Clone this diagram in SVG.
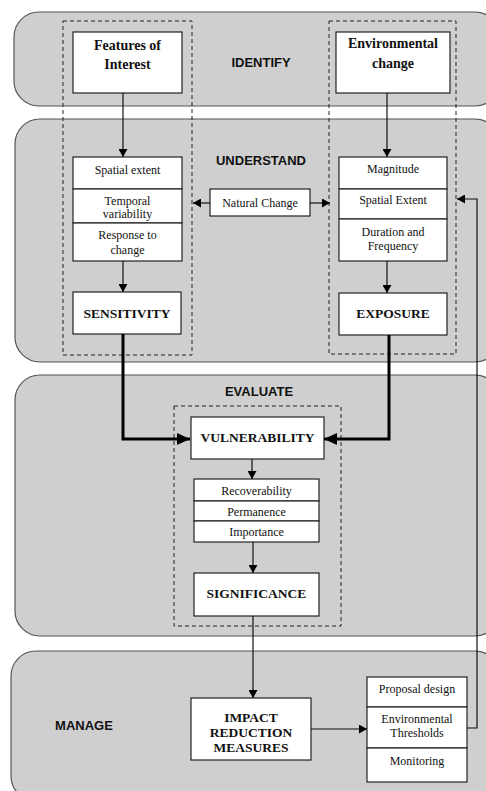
<svg xmlns="http://www.w3.org/2000/svg" width="486" height="791" viewBox="0 0 486 791">
<style>
.band{fill:#cfcfcf;stroke:#555;stroke-width:1.2}
.box{fill:#fff;stroke:#222;stroke-width:1.2}
.dash{fill:none;stroke:#222;stroke-width:1;stroke-dasharray:4,3}
.lbl{font-family:"Liberation Sans",Arial,sans-serif;font-weight:bold;font-size:13px;fill:#111;text-anchor:middle}
.s{font-family:"Liberation Serif","Times New Roman",serif;font-size:12px;fill:#111;text-anchor:middle}
.b{font-family:"Liberation Serif","Times New Roman",serif;font-size:13.5px;font-weight:bold;fill:#111;text-anchor:middle}
.b14{font-family:"Liberation Serif","Times New Roman",serif;font-size:14px;font-weight:bold;fill:#111;text-anchor:middle}
.ln{fill:none;stroke:#111;stroke-width:1.2}
.thk{fill:none;stroke:#000;stroke-width:3}
</style>
<defs>
<marker id="ah" markerWidth="9" markerHeight="9" refX="8" refY="4.5" orient="auto" markerUnits="userSpaceOnUse"><path d="M0,0 L8,4.5 L0,9 z" fill="#000"/></marker>
<marker id="ahb" markerWidth="13" markerHeight="12" refX="13" refY="6" orient="auto" markerUnits="userSpaceOnUse"><path d="M0,0 L13,6 L0,12 z" fill="#000"/></marker>
</defs>

<g id="bands">
<rect class="band" x="14" y="12" width="486" height="94" rx="25" ry="25"/>
<rect class="band" x="15" y="119" width="485" height="243" rx="25" ry="25"/>
<rect class="band" x="15" y="375" width="485" height="261" rx="25" ry="25"/>
<rect class="band" x="11" y="651" width="489" height="150" rx="25" ry="25"/>
<text class="lbl" x="261" y="67">IDENTIFY</text>
<text class="lbl" x="261" y="165">UNDERSTAND</text>
<text class="lbl" x="259" y="396">EVALUATE</text>
<text class="lbl" x="84" y="730">MANAGE</text>
</g>

<g id="groups">
<rect class="dash" x="63" y="21" width="129" height="334"/>
<rect class="dash" x="329" y="21" width="127" height="333"/>
<rect class="dash" x="174" y="406" width="167" height="220"/>
</g>

<g id="features">
<rect class="box" x="73" y="32" width="109" height="61"/>
<text class="b14" x="127.5" y="50">Features of</text>
<text class="b14" x="127.5" y="69">Interest</text>
</g>
<g id="envchange">
<rect class="box" x="336" y="32" width="114" height="61"/>
<text class="b14" x="393" y="48">Environmental</text>
<text class="b14" x="393" y="68">change</text>
</g>

<g id="feature-attrs">
<rect class="box" x="73" y="157" width="109" height="32"/>
<rect class="box" x="73" y="189" width="109" height="34"/>
<rect class="box" x="73" y="223" width="109" height="38"/>
<text class="s" x="127.5" y="174">Spatial extent</text>
<text class="s" x="127.5" y="205">Temporal</text>
<text class="s" x="127.5" y="218">variability</text>
<text class="s" x="127.5" y="239">Response to</text>
<text class="s" x="127.5" y="254">change</text>
</g>
<g id="change-attrs">
<rect class="box" x="339" y="157" width="108" height="32"/>
<rect class="box" x="339" y="189" width="108" height="30"/>
<rect class="box" x="339" y="219" width="108" height="42"/>
<text class="s" x="393" y="173">Magnitude</text>
<text class="s" x="393" y="204">Spatial Extent</text>
<text class="s" x="393" y="236">Duration and</text>
<text class="s" x="393" y="250">Frequency</text>
</g>
<g id="natural">
<rect class="box" x="210" y="189" width="100" height="27"/>
<text class="s" x="260" y="207">Natural Change</text>
</g>
<g id="sensitivity">
<rect class="box" x="73" y="292" width="108" height="42"/>
<text class="b" x="127" y="318">SENSITIVITY</text>
</g>
<g id="exposure">
<rect class="box" x="339" y="293" width="108" height="42"/>
<text class="b" x="393" y="318">EXPOSURE</text>
</g>
<g id="vulnerability">
<rect class="box" x="191" y="417" width="133" height="42"/>
<text class="b" x="257.5" y="442">VULNERABILITY</text>
</g>
<g id="vuln-attrs">
<rect class="box" x="194" y="479" width="125" height="22"/>
<rect class="box" x="194" y="501" width="125" height="20"/>
<rect class="box" x="194" y="521" width="125" height="21"/>
<text class="s" x="256.5" y="495">Recoverability</text>
<text class="s" x="256.5" y="516">Permanence</text>
<text class="s" x="256.5" y="536">Importance</text>
</g>
<g id="significance">
<rect class="box" x="194" y="573" width="125" height="43"/>
<text class="b" x="256.5" y="598">SIGNIFICANCE</text>
</g>
<g id="impact">
<rect class="box" x="191" y="698" width="120" height="62"/>
<text class="b" x="251" y="722">IMPACT</text>
<text class="b" x="251" y="737">REDUCTION</text>
<text class="b" x="251" y="752">MEASURES</text>
</g>
<g id="manage-attrs">
<rect class="box" x="367" y="677" width="100" height="30"/>
<rect class="box" x="367" y="707" width="100" height="41"/>
<rect class="box" x="367" y="748" width="100" height="34"/>
<text class="s" x="417" y="693">Proposal design</text>
<text class="s" x="417" y="723">Environmental</text>
<text class="s" x="417" y="737">Thresholds</text>
<text class="s" x="417" y="765">Monitoring</text>
</g>

<g id="connectors">
<line class="ln" x1="123" y1="93" x2="123" y2="157" marker-end="url(#ah)"/>
<line class="ln" x1="387" y1="93" x2="387" y2="157" marker-end="url(#ah)"/>
<line class="ln" x1="123" y1="261" x2="123" y2="292" marker-end="url(#ah)"/>
<line class="ln" x1="387" y1="261" x2="387" y2="293" marker-end="url(#ah)"/>
<line class="ln" x1="210" y1="203" x2="193" y2="203" marker-end="url(#ah)"/>
<line class="ln" x1="310" y1="203" x2="330" y2="203" marker-end="url(#ah)"/>
<polyline class="thk" points="123,334 123,439 190,439" marker-end="url(#ahb)"/>
<polyline class="thk" points="389,335 389,439 324,439" marker-end="url(#ahb)"/>
<line class="ln" x1="252" y1="459" x2="252" y2="479" marker-end="url(#ah)"/>
<line class="ln" x1="253" y1="542" x2="253" y2="573" marker-end="url(#ah)"/>
<line class="ln" x1="253" y1="616" x2="253" y2="698" marker-end="url(#ah)"/>
<line class="ln" x1="311" y1="729" x2="367" y2="729" marker-end="url(#ah)"/>
<polyline class="ln" points="467,728 477,728 477,199 457,199" marker-end="url(#ah)"/>
</g>
</svg>
